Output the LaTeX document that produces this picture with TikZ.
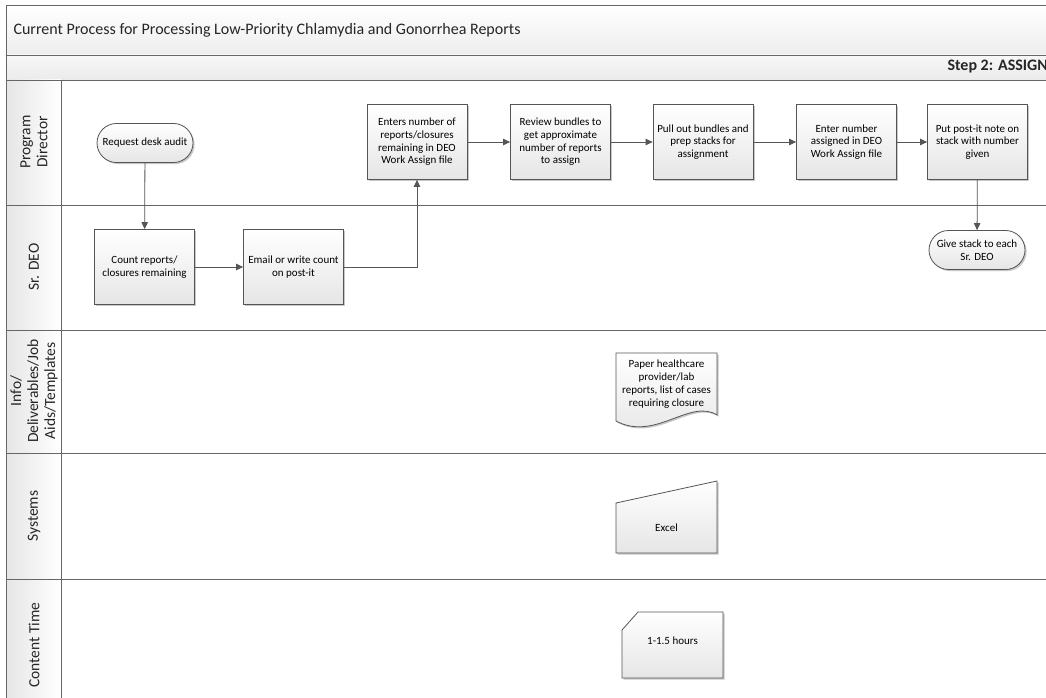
\documentclass[tikz,border=0pt]{standalone}
\usepackage{fontspec}
\setmainfont{Carlito}
\usetikzlibrary{arrows.meta,shapes.misc,shadows}
\definecolor{lineclr}{HTML}{555555}
\definecolor{frameclr}{HTML}{666666}
\tikzset{
  boxshadow/.style={drop shadow={shadow xshift=1.6pt,shadow yshift=-1.6pt,fill=black!22,opacity=1}},
  procbox/.style={rectangle,draw=lineclr,line width=0.8pt,top color=white,bottom color=black!10,
    minimum width=100pt,minimum height=75pt,align=center,font=\fontsize{11}{12.6}\selectfont,
    inner sep=1pt,boxshadow},
  termbox/.style={rounded rectangle,draw=lineclr,line width=0.8pt,top color=white,bottom color=black!10,
    minimum width=98pt,minimum height=39pt,align=center,font=\fontsize{11}{12.6}\selectfont,
    inner sep=1pt,boxshadow},
  artshape/.style={draw=lineclr,line width=0.8pt,top color=white,bottom color=black!10,boxshadow},
  arttext/.style={align=center,font=\fontsize{11}{13}\selectfont,inner sep=0pt},
  flow/.style={draw=lineclr,line width=0.8pt,-{Triangle[length=7pt,width=6.5pt]}},
  laneline/.style={draw=frameclr,line width=0.9pt},
  lanelabel/.style={rotate=90,align=center,font=\fontsize{15.5}{17}\selectfont,text=black!85},
}
\begin{document}
\begin{tikzpicture}[x=1pt,y=-1pt]
\useasboundingbox (0,0) rectangle (1046,698);
\clip (0,0) rectangle (1046,698);
\fill[white] (0,0) rectangle (1046,698);

% header bands
\shade[top color=white,bottom color=black!7] (6,5) rectangle (1060,55);
\shade[top color=black!3,bottom color=black!8] (6,55) rectangle (1060,80);
% lane label column
\shade[left color=black!10,right color=white] (6,80) rectangle (61,705);

% frame and lane separators
\draw[laneline] (1060,5) -- (6,5) -- (6,705);
\draw[laneline] (6,55) -- (1060,55);
\draw[laneline] (6,80) -- (1060,80);
\draw[laneline] (61,80) -- (61,705);
\draw[laneline] (6,205) -- (1060,205);
\draw[laneline] (6,330) -- (1060,330);
\draw[laneline] (6,453) -- (1060,453);
\draw[laneline] (6,579) -- (1060,579);

% titles
\node[anchor=west,font=\fontsize{16}{18}\selectfont,text=black!85] (title) at (10,30)
  {Current Process for Processing Low-Priority Chlamydia and Gonorrhea Reports};
\node[anchor=west,font=\bfseries\fontsize{16}{18}\selectfont,text=black!85] (step) at (944,67)
  {Step 2: ASSIGN};

% lane labels
\node[lanelabel] (lpd) at (34,142) {Program\\Director};
\node[lanelabel] (ldeo) at (34,267) {Sr. DEO};
\node[lanelabel] (linfo) at (34,391) {Info/\\Deliverables/Job\\Aids/Templates};
\node[lanelabel] (lsys) at (34,516) {Systems};
\node[lanelabel] (ltime) at (34,645) {Content Time};

% process steps
\node[termbox] (request) at (145,143) {Request desk audit};
\node[procbox] (count) at (144.5,267) {Count reports/\\closures remaining};
\node[procbox] (email) at (293.5,267) {Email or write count\\on post-it};
\node[procbox] (enters) at (417,142) {Enters number of\\reports/closures\\remaining in DEO\\Work Assign file};
\node[procbox] (review) at (560.5,142) {Review bundles to\\get approximate\\number of reports\\to assign};
\node[procbox] (pull) at (703,142) {Pull out bundles and\\prep stacks for\\assignment};
\node[procbox] (enternum) at (846.5,142) {Enter number\\assigned in DEO\\Work Assign file};
\node[procbox] (postit) at (977.5,142) {Put post-it note on\\stack with number\\given};
\node[termbox] (give) at (977,250) {Give stack to each\\Sr. DEO};

% connectors
\draw[flow] (request) -- (count);
\draw[flow] (count) -- (email);
\draw[flow] (email.east) -| (enters.south);
\draw[flow] (enters) -- (review);
\draw[flow] (review) -- (pull);
\draw[flow] (pull) -- (enternum);
\draw[flow] (enternum) -- (postit);
\draw[flow] (postit) -- (give);

% document
\path[artshape] (616,353) -- (717,353) -- (717,415)
  .. controls (690,398) and (655,442) .. (616,421) -- cycle;
\node[arttext] (paper) at (666.5,384)
  {Paper healthcare\\provider/lab\\reports, list of cases\\requiring closure};

% system (manual input)
\path[artshape] (616,503) -- (717,481) -- (717,553) -- (616,553) -- cycle;
\node[arttext] (excel) at (666.5,528) {Excel};

% time (card)
\path[artshape] (622,630) -- (638,612) -- (723,612) -- (723,678) -- (622,678) -- cycle;
\node[arttext] (hours) at (672.5,641) {1-1.5 hours};
\end{tikzpicture}
\end{document}
